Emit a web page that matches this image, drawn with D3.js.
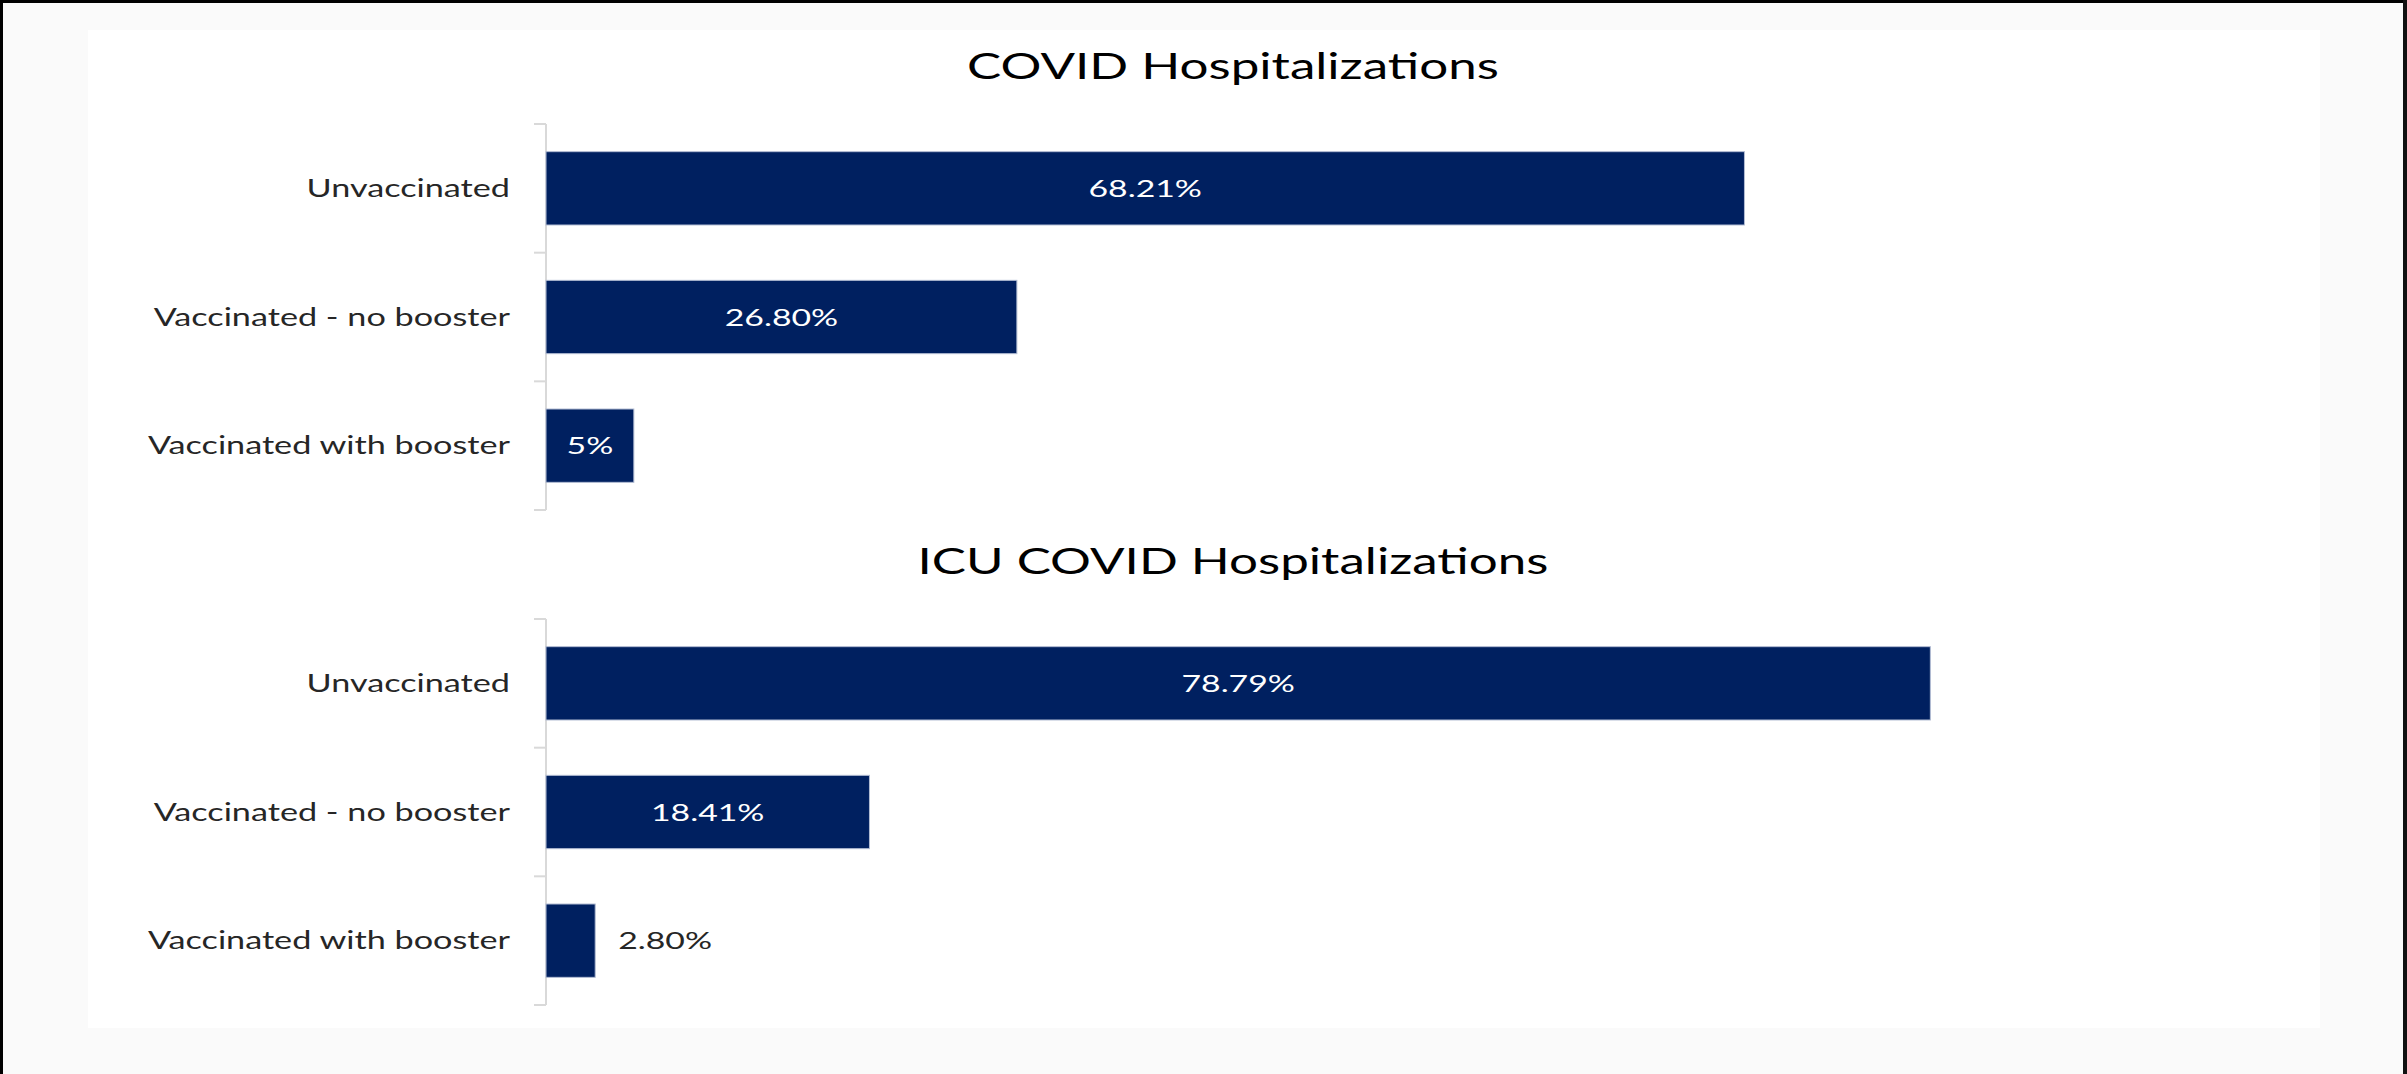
<!DOCTYPE html>
<html>
<head>
<meta charset="utf-8">
<script src="https://cdn.jsdelivr.net/npm/d3@7"></script>
<style>
  body { margin: 0; background: #fafafa; }
  svg { display: block; font-family: Lato, "Noto Sans", sans-serif; }
</style>
</head>
<body>
<svg width="2407" height="1074"></svg>
<script>
// Datos (porcentajes)
const categorias = ["Unvaccinated", "Vaccinated - no booster", "Vaccinated with booster"];
const titulos = ["COVID Hospitalizations", "ICU COVID Hospitalizations"];
const hospValores = [68.21, 26.80, 5];
const hospEtiquetas = ["68.21%", "26.80%", "5%"];
const icuValores = [78.79, 18.41, 2.80];
const icuEtiquetas = ["78.79%", "18.41%", "2.80%"];

const svg = d3.select("svg");
const W = +svg.attr("width");
const H = +svg.attr("height");

// el original está estirado a lo ancho
const sx = 1.42;
const barColor = "#002060";

// fondo, panel blanco y borde negro
svg.append("rect").attr("width", W).attr("height", H).attr("fill", "#fafafa");
svg.append("rect").attr("x", 88).attr("y", 30).attr("width", 2232).attr("height", 998).attr("fill", "#fff");
svg.append("rect").attr("x", 0).attr("y", 0).attr("width", W).attr("height", 3).attr("fill", "#000");
svg.append("rect").attr("x", 0).attr("y", 0).attr("width", 3).attr("height", H).attr("fill", "#000");
svg.append("rect").attr("x", W - 4).attr("y", 0).attr("width", 4).attr("height", H).attr("fill", "#111");

// escala horizontal compartida
const x = d3.scaleLinear().domain([0, 100]).range([546, 2303]);

function texto(parent, tx, ty, str, size, fill, anchor) {
  return parent.append("g")
    .attr("transform", `translate(${tx},${ty}) scale(${sx},1)`)
    .append("text")
    .attr("text-anchor", anchor)
    .attr("dy", "0.36em")
    .attr("font-size", size)
    .attr("fill", fill)
    .text(str);
}

function grafico(top, titulo, valores, etiquetas) {
  const g = svg.append("g");
  const datos = categorias.map((c, i) => ({cat: c, v: valores[i], lab: etiquetas[i]}));

  const y = d3.scaleBand()
    .domain(categorias)
    .range([top, top + 386])
    .paddingInner(0.43)
    .paddingOuter(0.215);

  // titulo
  texto(g, 1233, top - 58, titulo, 36, "#000", "middle");

  // eje vertical con marcas entre categorias
  g.append("line")
    .attr("x1", x(0)).attr("x2", x(0))
    .attr("y1", top).attr("y2", top + 386)
    .attr("stroke", "#d9d9d9").attr("stroke-width", 2);
  g.selectAll("line.tick")
    .data(d3.range(categorias.length + 1))
    .join("line")
    .attr("class", "tick")
    .attr("x1", x(0) - 12).attr("x2", x(0))
    .attr("y1", i => top + i * y.step())
    .attr("y2", i => top + i * y.step())
    .attr("stroke", "#d9d9d9").attr("stroke-width", 2);

  // barras
  g.selectAll("rect.bar")
    .data(datos)
    .join("rect")
    .attr("class", "bar")
    .attr("x", x(0))
    .attr("y", d => y(d.cat))
    .attr("width", d => x(d.v) - x(0))
    .attr("height", y.bandwidth())
    .attr("fill", barColor)
    .attr("stroke", "#b3bdd3")
    .attr("stroke-width", 1);

  // etiquetas de categoria
  datos.forEach(d => {
    texto(g, x(0) - 36, y(d.cat) + y.bandwidth() / 2, d.cat, 24.1, "#262626", "end");
  });

  // etiquetas de valor
  datos.forEach(d => {
    const w = x(d.v) - x(0);
    const cy = y(d.cat) + y.bandwidth() / 2;
    if (w > 70) {
      texto(g, x(0) + w / 2, cy, d.lab, 23.8, "#fff", "middle");
    } else {
      texto(g, x(d.v) + 23, cy, d.lab, 23.8, "#262626", "start");
    }
  });
}

grafico(124, titulos[0], hospValores, hospEtiquetas);
grafico(619, titulos[1], icuValores, icuEtiquetas);
</script>
</body>
</html>
